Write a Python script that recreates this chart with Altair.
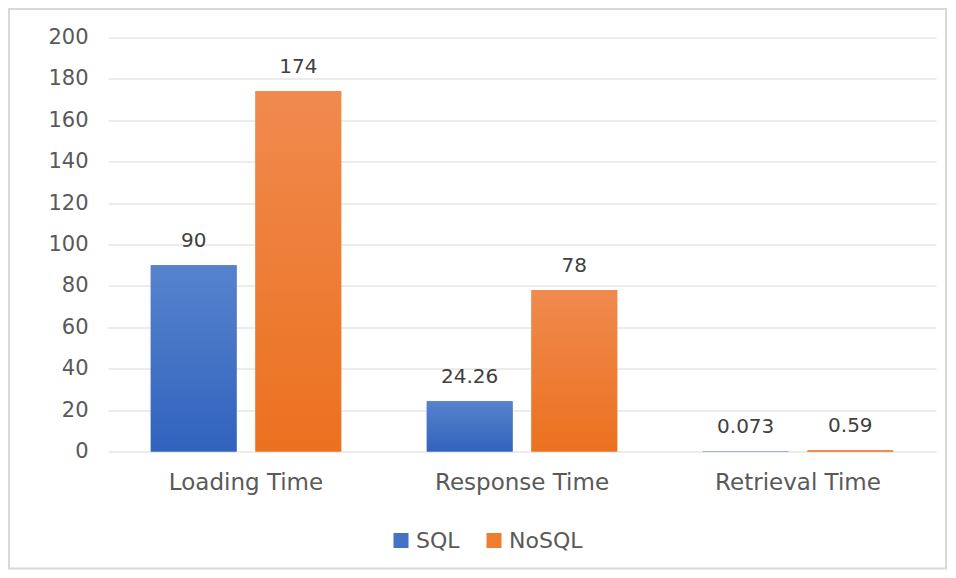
import altair as alt
import pandas as pd

categories = ["Loading Time", "Response Time", "Retrieval Time"]
series = ["SQL", "NoSQL"]
sql_values = [90, 24.26, 0.073]
nosql_values = [174, 78, 0.59]
sql_labels = ["90", "24.26", "0.073"]
nosql_labels = ["174", "78", "0.59"]
y_ticks = list(range(0, 201, 20))

rows = []
for c, v, l in zip(categories, sql_values, sql_labels):
    rows.append({"metric": c, "system": "SQL", "value": v, "label": l})
for c, v, l in zip(categories, nosql_values, nosql_labels):
    rows.append({"metric": c, "system": "NoSQL", "value": v, "label": l})
df = pd.DataFrame(rows)

FONT = "DejaVu Sans"
AXIS_GRAY = "#595959"

x = alt.X(
    "metric:N",
    sort=categories,
    scale=alt.Scale(paddingInner=0.31, paddingOuter=0.155),
    axis=alt.Axis(
        title=None, labelAngle=0, domain=False, ticks=False, grid=False,
        labelPadding=20, labelFontSize=23, labelColor=AXIS_GRAY, labelFont=FONT,
    ),
)
xo = alt.XOffset(
    "system:N", sort=series,
    scale=alt.Scale(domain=series, paddingInner=0.18, paddingOuter=0),
)
y = alt.Y(
    "value:Q",
    scale=alt.Scale(domain=[0, 200], nice=False),
    axis=alt.Axis(
        values=y_ticks, title=None, domain=False, ticks=False, grid=True,
        gridColor="#d9d9d9", gridWidth=1, labelPadding=20, labelFontSize=21,
        labelColor=AXIS_GRAY, labelFont=FONT,
    ),
)
color = alt.Color(
    "system:N", sort=series,
    scale=alt.Scale(domain=series, range=["#4472C4", "#ED7D31"]),
    legend=alt.Legend(
        title=None, orient="none", legendX=282, legendY=492,
        direction="horizontal", symbolType="square", symbolSize=225,
        symbolStrokeWidth=0, labelFontSize=22, labelColor=AXIS_GRAY,
        labelFont=FONT, columnPadding=23, labelOffset=4,
    ),
)

base = alt.Chart(df)

frame = alt.Chart(pd.DataFrame({"f": [0]})).mark_rect(
    fill="transparent", stroke="#d9d9d9", strokeWidth=2
).encode(
    x=alt.value(-99), x2=alt.value(838), y=alt.value(-28.5), y2=alt.value(531)
)

bars = base.mark_bar().encode(x=x, xOffset=xo, y=y, color=color)


def grad(top, bottom):
    return alt.Gradient(
        gradient="linear",
        stops=[alt.GradientStop(offset=0, color=top),
               alt.GradientStop(offset=1, color=bottom)],
        x1=0, x2=0, y1=0, y2=1,
    )


sql_grad = base.transform_filter(alt.datum.system == "SQL").mark_bar(
    fill=grad("#5783cd", "#3163bd")
).encode(x=x, xOffset=xo, y=y)
nosql_grad = base.transform_filter(alt.datum.system == "NoSQL").mark_bar(
    fill=grad("#f08a4e", "#eb711f")
).encode(x=x, xOffset=xo, y=y)

labels = base.mark_text(
    baseline="alphabetic", dy=-18, fontSize=20, color="#404040", font=FONT
).encode(x=x, xOffset=xo, y=y, text="label:N")

chart = alt.layer(frame, bars, sql_grad, nosql_grad, labels).properties(
    width=828,
    height=414,
    autosize=alt.AutoSizeParams(type="none"),
    padding={"left": 100, "top": 29.5, "right": 12, "bottom": 118},
    background="white",
).configure_view(strokeWidth=0)

chart.save("out.html", embed_options={"renderer": "svg", "actions": False})
